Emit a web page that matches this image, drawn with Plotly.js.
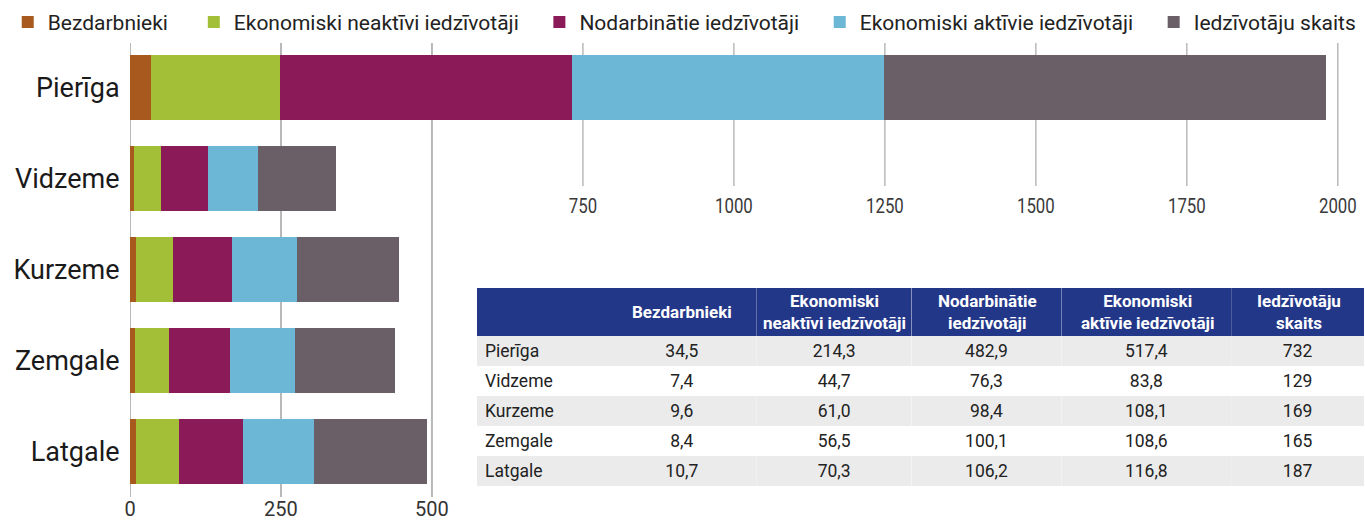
<!DOCTYPE html>
<html>
<head>
<meta charset="utf-8">
<script src="https://cdn.plot.ly/plotly-3.0.1.min.js"></script>
<style>
  html, body { margin: 0; padding: 0; background: #ffffff; }
  #chart { width: 1365px; height: 521px; }
</style>
</head>
<body>
<div id="chart"></div>
<script>
// ---- Data ----
const regions = ['Pierīga', 'Vidzeme', 'Kurzeme', 'Zemgale', 'Latgale'];
const bezdarbnieki = [34.5, 7.4, 9.6, 8.4, 10.7];
const neaktivi = [214.3, 44.7, 61.0, 56.5, 70.3];
const nodarbinatie = [482.9, 76.3, 98.4, 100.1, 106.2];
const aktivie = [517.4, 83.8, 108.1, 108.6, 116.8];
const iedzivotaji = [732, 129, 169, 165, 187];

const seriesNames = ['Bezdarbnieki', 'Ekonomiski neaktīvi iedzīvotāji', 'Nodarbinātie iedzīvotāji',
                     'Ekonomiski aktīvie iedzīvotāji', 'Iedzīvotāju skaits'];
const seriesValues = [bezdarbnieki, neaktivi, nodarbinatie, aktivie, iedzivotaji];
const seriesColors = ['#a85a1e', '#a3bf38', '#8b1a58', '#6cb6d6', '#6a5f67'];

const lowerTicks = [0, 250, 500];
const upperTicks = [750, 1000, 1250, 1500, 1750, 2000];

const tableHeaders = ['', 'Bezdarbnieki', 'Ekonomiski<br>neaktīvi iedzīvotāji', 'Nodarbinātie<br>iedzīvotāji',
                      'Ekonomiski<br>aktīvie iedzīvotāji', 'Iedzīvotāju<br>skaits'];

// ---- Layout constants ----
const PLOT_H = 455;            // plot area height in px (521 - 42 - 24)
const tableDomX = [0.281, 1];
const tableDomY = [0.022, 0.4593];
const colWidths = [130, 150, 155, 150, 170, 133];
const HEADER_H = 48;
const legendPads = ['\u00a0\u00a0\u00a0\u00a0', '\u00a0\u00a0\u00a0', '\u00a0\u00a0\u00a0', '\u00a0\u00a0\u00a0', ''];

// ---- Traces ----
const traces = seriesNames.map((name, i) => ({
  type: 'bar',
  orientation: 'h',
  name: name + legendPads[i],
  y: regions,
  x: seriesValues[i],
  marker: { color: seriesColors[i] },
  xaxis: 'x',
  yaxis: 'y',
  hoverinfo: 'x+name'
}));

// invisible trace to carry the upper tick labels on xaxis2
traces.push({
  type: 'scatter', mode: 'markers', x: [upperTicks[0]], y: [regions[0]],
  xaxis: 'x2', yaxis: 'y', marker: { opacity: 0 }, showlegend: false, hoverinfo: 'skip'
});

const fmt1 = v => v.toFixed(1).replace('.', ',');
const fmt0 = v => String(v);
const rowFills = regions.map((r, i) => (i % 2 === 0 ? '#ebebeb' : '#ffffff'));

traces.push({
  type: 'table',
  domain: { x: tableDomX, y: tableDomY },
  columnwidth: colWidths,
  header: {
    values: tableHeaders.map(() => ''),
    fill: { color: '#233789' },
    line: { color: '#233789', width: 0 },
    font: { family: 'Roboto, sans-serif', size: 12, color: '#ffffff' },
    height: HEADER_H
  },
  cells: {
    values: [regions, bezdarbnieki.map(fmt1), neaktivi.map(fmt1), nodarbinatie.map(fmt1),
             aktivie.map(fmt1), iedzivotaji.map(fmt0)],
    fill: { color: [rowFills] },
    line: { color: [rowFills], width: 0 },
    font: { family: 'Roboto, sans-serif', size: 17.5, color: '#222222' },
    align: ['left', 'center', 'center', 'center', 'center', 'center'],
    height: 30
  }
});

// ---- Table header labels (centered per line) ----
const totalW = colWidths.reduce((a, b) => a + b, 0);
const headerAnnotations = [];
let cum = 0;
colWidths.forEach((w, i) => {
  const cx = tableDomX[0] + (cum + w / 2) / totalW * (tableDomX[1] - tableDomX[0]);
  cum += w;
  if (!tableHeaders[i]) return;
  headerAnnotations.push({
    xref: 'paper', yref: 'paper',
    x: cx, y: tableDomY[1] - (HEADER_H / 2) / PLOT_H,
    xanchor: 'center', yanchor: 'middle', align: 'center',
    showarrow: false,
    text: '<b>' + tableHeaders[i] + '</b>',
    font: { family: 'Roboto, sans-serif', size: 17, color: '#ffffff' }
  });
});

// ---- Gridlines as shapes in data-x coordinates ----
const gridShapes = [];
lowerTicks.forEach(t => gridShapes.push({
  type: 'line', xref: 'x', yref: 'paper', x0: t, x1: t, y0: 0, y1: 1,
  line: { color: '#b8b8b8', width: 2 }, layer: 'below'
}));
upperTicks.forEach(t => gridShapes.push({
  type: 'line', xref: 'x', yref: 'paper', x0: t, x1: t, y0: 0.6835, y1: 1,
  line: { color: '#a8a8a8', width: 1.2 }, layer: 'below'
}));

const layout = {
  width: 1365,
  height: 521,
  margin: { l: 130, r: 0, t: 42, b: 24 },
  paper_bgcolor: '#ffffff',
  plot_bgcolor: '#ffffff',
  font: { family: 'Roboto, sans-serif', color: '#222222' },
  barmode: 'stack',
  bargap: 0.275,
  showlegend: true,
  legend: {
    orientation: 'h',
    x: -0.099, xanchor: 'left',
    y: 1.088, yanchor: 'top',
    font: { size: 21, color: '#222222' },
    traceorder: 'normal',
    itemclick: false
  },
  xaxis: {
    range: [0, 2045],
    tickmode: 'array',
    tickvals: lowerTicks,
    ticktext: lowerTicks.map(String),
    showgrid: false,
    zeroline: false,
    showline: false,
    ticks: '',
    ticklabelstandoff: -2,
    tickfont: { size: 20, color: '#333333' }
  },
  xaxis2: {
    overlaying: 'x',
    matches: 'x',
    anchor: 'free',
    position: 0.6725,
    side: 'bottom',
    tickmode: 'array',
    tickvals: upperTicks,
    ticktext: upperTicks.map(String),
    showgrid: false,
    zeroline: false,
    showline: false,
    ticks: '',
    tickfont: { family: 'Roboto, sans-serif', size: 21, color: '#3a3a3a' }
  },
  yaxis: {
    type: 'category',
    autorange: 'reversed',
    showgrid: false,
    zeroline: false,
    showline: false,
    ticks: 'outside',
    ticklen: 4,
    tickcolor: 'rgba(0,0,0,0)',
    tickfont: { size: 27, color: '#1a1a1a' }
  },
  shapes: gridShapes,
  annotations: headerAnnotations
};

Plotly.newPlot('chart', traces, layout, { displayModeBar: false, staticPlot: true }).then(gd => {
  // condense the upper tick labels horizontally, like the narrow face of the original
  gd.querySelectorAll('.x2tick text').forEach(t => {
    const len = t.getComputedTextLength();
    t.setAttribute('textLength', (len * 0.8).toFixed(1));
    t.setAttribute('lengthAdjust', 'spacingAndGlyphs');
  });
});
</script>
</body>
</html>
